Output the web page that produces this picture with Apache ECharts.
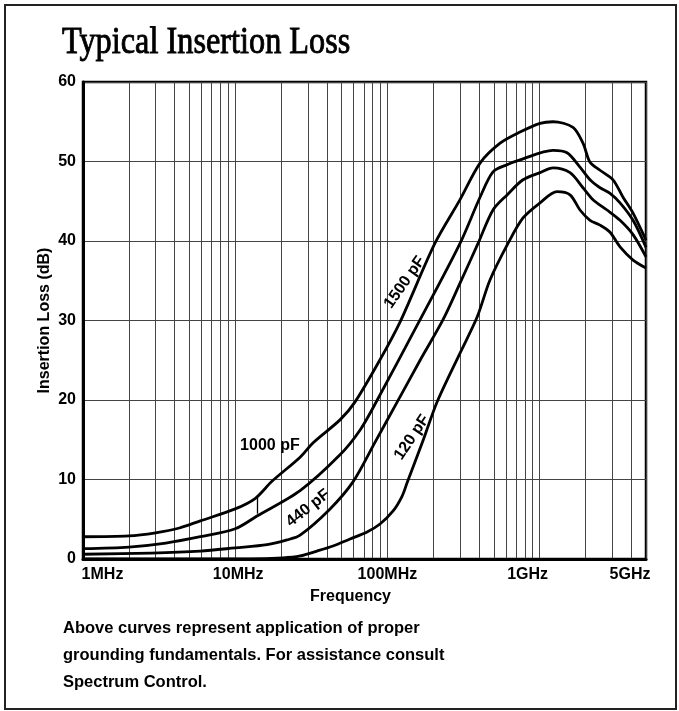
<!DOCTYPE html>
<html><head><meta charset="utf-8">
<script src="https://cdn.jsdelivr.net/npm/echarts@6/dist/echarts.min.js"></script>
<style>html,body{margin:0;padding:0;background:#fff}#c{width:679px;height:711px}</style>
</head><body><div id="c"></div>
<script>
// ---- text ----
const TITLE = 'Typical Insertion Loss';
const NOTE = ['Above curves represent application of proper', 'grounding fundamentals. For assistance consult', 'Spectrum Control.'];
const X_NAME = 'Frequency';
const Y_NAME = 'Insertion Loss (dB)';
// ---- axes (frequency in MHz) ----
const X_LABEL_VALUES = [1, 10, 100, 1000, 5000];
const X_LABEL_TEXT = ['1MHz', '10MHz', '100MHz', '1GHz', '5GHz'];
const X_GRID_VALUES = [1,2,3,4,5,6,7,8,9,10,20,30,40,50,60,70,80,90,100,200,300,400,500,600,700,800,900,1000,2000,3000,4000,5000];
const Y_MIN = 0, Y_MAX = 60, Y_STEP = 10;
// ---- curves ----
const CURVE_NAMES = ['1500 pF', '1000 pF', '440 pF', '120 pF'];
const FREQ_1500 = [1, 2, 3, 4.3, 5.9, 10, 13.5, 17.5, 26.7, 32.4, 48.8, 61, 89, 121, 205, 300, 406, 550, 743, 1006, 1225, 1657, 1928, 2144, 2494, 3035, 3533, 4110, 5000];
const LOSS_1500 = [2.8, 2.9, 3.3, 3.9, 4.8, 6.3, 7.6, 9.8, 12.8, 14.6, 17.5, 19.7, 25.0, 29.8, 39.7, 45.2, 49.8, 52.3, 53.7, 54.8, 55.0, 54.3, 52.3, 49.9, 48.9, 47.7, 45.5, 43.5, 40.1];
const FREQ_1000 = [1, 2, 3.5, 5.9, 10, 13.9, 26.7, 48.8, 66, 83, 164, 300, 406, 494, 611, 743, 1225, 1514, 1842, 2144, 2494, 2902, 3376, 4110, 5000];
const LOSS_1000 = [1.3, 1.5, 2.0, 2.8, 3.8, 5.4, 8.6, 13.1, 16.2, 19.5, 30.1, 39.7, 45.5, 48.7, 49.6, 50.2, 51.4, 51.1, 49.3, 47.7, 46.7, 46.0, 44.8, 42.6, 39.2];
const FREQ_440 = [1, 2.8, 5.9, 10, 16.2, 21.9, 26.7, 42, 59.4, 83, 115.6, 164, 232, 300, 394, 494, 611, 778, 1006, 1225, 1584, 1928, 2243, 2773, 3376, 4110, 5000];
const LOSS_440 = [0.6, 0.75, 1.0, 1.4, 1.8, 2.4, 3.0, 6.3, 9.7, 14.7, 19.7, 25.0, 30.1, 34.7, 39.7, 43.9, 45.8, 47.7, 48.6, 49.2, 48.6, 46.7, 45.2, 43.9, 42.6, 40.8, 38.0];
const FREQ_120 = [1, 12.5, 20.6, 26.7, 34.5, 43.9, 56.8, 73.5, 89.4, 109, 125, 134.5, 171, 212, 300, 388, 472, 620, 778, 1006, 1301, 1584, 1842, 2144, 2494, 2902, 3376, 4110, 5000];
const LOSS_120 = [0, 0, 0.13, 0.38, 1.0, 1.64, 2.52, 3.40, 4.40, 6.04, 7.92, 9.56, 14.84, 19.75, 25.9, 30.4, 35.1, 39.7, 42.9, 44.8, 46.2, 45.8, 43.9, 42.6, 42.0, 41.1, 39.25, 37.6, 36.6];

const pair = (f, l) => f.map((v, i) => [v, l[i]]);
const FONT = '"Liberation Sans", Arial, Helvetica, sans-serif';
const curves = [[FREQ_1500, LOSS_1500], [FREQ_1000, LOSS_1000], [FREQ_440, LOSS_440], [FREQ_120, LOSS_120]];

const labelPad = {1: [0, 0, 0, 39], 10: [0, 0, 0, 6], 100: [0, 0, 0, 0], 1000: [0, 24, 0, 0], 5000: [0, 32, 0, 0]};
const rich = {};
X_LABEL_VALUES.forEach((v, i) => {
  rich['l' + i] = {fontFamily: FONT, fontWeight: 'bold', fontSize: 16, color: '#000', padding: labelPad[v]};
});

const lineSeries = curves.map((c, i) => ({
  type: 'line', name: CURVE_NAMES[i], data: pair(c[0], c[1]),
  showSymbol: false, symbol: 'none', smooth: 0.3,
  lineStyle: {color: '#000', width: 2.8, join: 'round'}, z: 5,
  markLine: i === 1 ? {
    silent: true, symbol: ['none', 'triangle'], symbolSize: [0, 7],
    label: {show: false},
    lineStyle: {color: '#000', width: 1.3, type: 'solid'},
    data: [[{coord: [13.9, 7.8]}, {coord: [13.9, 5.7]}]]
  } : undefined
}));

const labelSeries = {
  type: 'scatter', symbolSize: 0, silent: true, z: 6,
  itemStyle: {color: '#000', opacity: 1},
  label: {show: true, position: 'inside', formatter: '{b}', color: '#000', opacity: 1, textBorderWidth: 0, textBorderColor: 'transparent',
          fontFamily: FONT, fontWeight: 'bold', fontSize: 16},
  data: [
    {name: CURVE_NAMES[0], value: [130, 34.8], label: {rotate: 55}},
    {name: CURVE_NAMES[1], value: [16.9, 14.3], label: {rotate: 0}},
    {name: CURVE_NAMES[2], value: [30.1, 6.4], label: {rotate: 38}},
    {name: CURVE_NAMES[3], value: [145, 15.3], label: {rotate: 56}}
  ]
};

const chart = echarts.init(document.getElementById('c'), null, {renderer: 'canvas'});
chart.setOption({
  animation: false,
  backgroundColor: '#fff',
  grid: {left: 83, right: 33, top: 82, bottom: 152, show: true, borderColor: '#000', borderWidth: 2.5},
  xAxis: {
    type: 'log', logBase: 10, min: 1, max: 5000,
    name: X_NAME, nameLocation: 'middle', nameGap: 30, nameMoveOverlap: false,
    nameTextStyle: {fontFamily: FONT, fontWeight: 'bold', fontSize: 16, color: '#000', padding: [0, 28, 0, 0]},
    axisLine: {show: true, onZero: false, lineStyle: {color: '#000', width: 3}},
    axisTick: {show: false, customValues: X_GRID_VALUES},
    axisLabel: {
      show: true, customValues: X_LABEL_VALUES, margin: 8, showMinLabel: true, showMaxLabel: true,
      fontFamily: FONT, fontWeight: 'bold', fontSize: 16, color: '#000',
      formatter: v => { const i = X_LABEL_VALUES.findIndex(x => Math.abs(x - v) / x < 1e-6); return i < 0 ? '' : '{l' + i + '|' + X_LABEL_TEXT[i] + '}'; },
      rich: rich
    },
    splitLine: {show: true, lineStyle: {color: '#444', width: 1}},
    minorSplitLine: {show: false}
  },
  yAxis: {
    type: 'value', min: Y_MIN, max: Y_MAX, interval: Y_STEP,
    name: Y_NAME, nameLocation: 'middle', nameGap: 30, nameRotate: 90, nameMoveOverlap: false,
    nameTextStyle: {fontFamily: FONT, fontWeight: 'bold', fontSize: 16, color: '#000'},
    axisLine: {show: true, lineStyle: {color: '#000', width: 3}},
    axisTick: {show: false},
    axisLabel: {margin: 7, fontFamily: FONT, fontWeight: 'bold', fontSize: 16, color: '#000'},
    splitLine: {show: true, lineStyle: {color: '#444', width: 1}}
  },
  series: lineSeries.concat([labelSeries]),
  graphic: [
    {type: 'rect', silent: true, shape: {x: 5, y: 5, width: 671, height: 704}, style: {fill: 'none', stroke: '#222', lineWidth: 2}},
    {type: 'text', x: 62, y: 43, scaleX: 0.85, silent: true,
     style: {text: TITLE, font: '38px "Liberation Serif", "Times New Roman", serif', fill: '#000', stroke: '#000', lineWidth: 0.9,
             textAlign: 'left', textVerticalAlign: 'middle', align: 'left', verticalAlign: 'middle'}},
    {type: 'text', x: 63, y: 614.5, silent: true,
     style: {text: NOTE.join('\n'), font: 'bold 16.5px "Liberation Sans", Arial, sans-serif', lineHeight: 27, fill: '#000', textAlign: 'left', textVerticalAlign: 'top', align: 'left', verticalAlign: 'top'}}
  ]
});
</script></body></html>
